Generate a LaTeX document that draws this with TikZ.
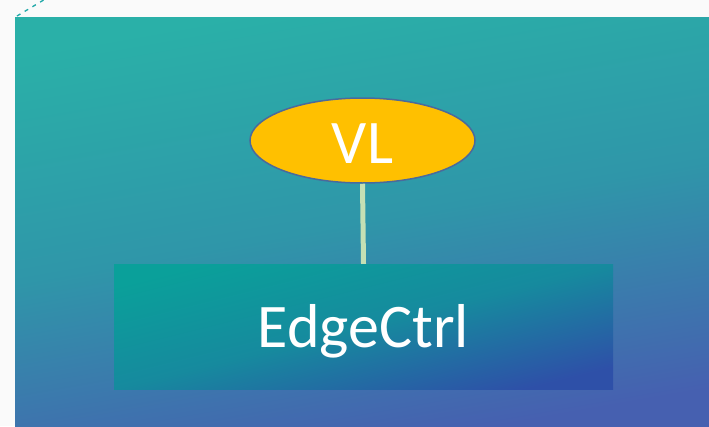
\documentclass[tikz,border=0pt]{standalone}
\usepackage{fontspec}
\setmainfont{Carlito}
\usetikzlibrary{shapes.geometric}
\definecolor{pagebg}{HTML}{FAFAFA}
\definecolor{bgtop}{HTML}{2AB0A8}
\definecolor{bgmid}{HTML}{2F96A9}
\definecolor{bgbot}{HTML}{4660B0}
\definecolor{recttop}{HTML}{0AA09A}
\definecolor{rectmid}{HTML}{168A9E}
\definecolor{rectbot}{HTML}{2E50A8}
\definecolor{vlfill}{HTML}{FFC000}
\definecolor{vlline}{HTML}{4A6A9C}
\definecolor{linkcol}{HTML}{C5E0B4}
\definecolor{dashcol}{HTML}{20A8A8}
\tikzset{
  labeltext/.style={text=white, font=\fontsize{62}{62}\selectfont, text height=41pt, text depth=0pt, inner sep=0pt},
  vlnode/.style={ellipse, draw=vlline, line width=1.5pt, fill=vlfill, minimum width=225pt, minimum height=85pt, labeltext},
  ctrlnode/.style={rectangle, minimum width=499pt, minimum height=125pt, labeltext, top color=recttop, bottom color=rectbot, middle color=rectmid, shading angle=14},
  linkline/.style={draw=linkcol, line width=5pt},
  dashline/.style={draw=dashcol, line width=1.3pt, dash pattern=on 4pt off 5pt}
}
\begin{document}
\begin{tikzpicture}[x=1pt,y=-1pt]
\fill[pagebg] (0,0) rectangle (709,426);
\useasboundingbox (0,0) rectangle (709,426);
\shade[top color=bgtop, bottom color=bgbot, middle color=bgmid, shading angle=10] (15,17) rectangle (709,426);
\coordinate (d1) at (17,16);
\coordinate (d2) at (47,-2);
\draw[dashline] (d1) -- (d2);
\node[ctrlnode] (ctrl) at (363.5,326.5) {EdgeCtrl};
\node[vlnode] (vl) at (362.5,140.5) {\raisebox{-2pt}{VL}};
\draw[linkline] (vl.south) -- (ctrl.north);
\end{tikzpicture}
\end{document}
